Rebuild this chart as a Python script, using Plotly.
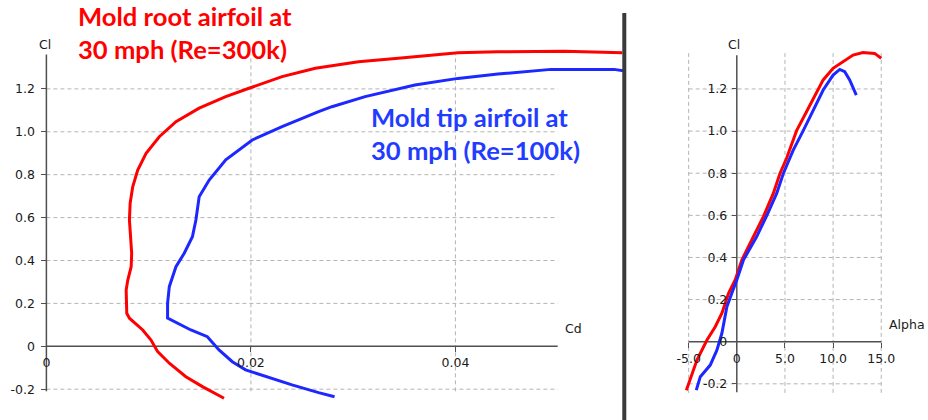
import plotly.graph_objects as go

# ---------------- data ----------------
root_polar_cd = [0.01737, 0.01526, 0.01364, 0.01202, 0.01088, 0.01023, 0.00942, 0.00812, 0.00786,
                 0.00780, 0.00796, 0.00829, 0.00834, 0.00822, 0.00812, 0.00819, 0.00844, 0.00893,
                 0.00975, 0.01104, 0.01267, 0.01494, 0.01754, 0.01981, 0.02305, 0.02630, 0.03052,
                 0.03441, 0.03765, 0.04025, 0.04415, 0.05064, 0.05632]
root_polar_cl = [-0.242, -0.188, -0.142, -0.079, -0.025, 0.029, 0.076, 0.131, 0.154,
                 0.262, 0.309, 0.371, 0.434, 0.527, 0.589, 0.667, 0.744, 0.822,
                 0.900, 0.977, 1.047, 1.110, 1.164, 1.203, 1.257, 1.296, 1.327,
                 1.343, 1.358, 1.369, 1.373, 1.376, 1.369]

tip_polar_cd = [0.02818, 0.02662, 0.02402, 0.02143, 0.01948, 0.01818, 0.01688, 0.01574, 0.01413,
                0.01185, 0.01185, 0.01202, 0.01267, 0.01348, 0.01428, 0.01462, 0.01494, 0.01592,
                0.01754, 0.02013, 0.02305, 0.02662, 0.02792, 0.03117, 0.03604, 0.04025, 0.04415,
                0.04934, 0.05551, 0.05661]
tip_polar_cl = [-0.235, -0.216, -0.180, -0.142, -0.110, -0.072, -0.017, 0.045, 0.076,
                0.131, 0.200, 0.278, 0.371, 0.434, 0.511, 0.589, 0.697, 0.775,
                0.869, 0.962, 1.024, 1.094, 1.117, 1.164, 1.218, 1.249, 1.269,
                1.291, 1.291, 1.283]

root_alpha = [-5.24, -4.14, -3.10, -2.24, -1.55, -0.86, -0.17, 0.52, 1.72, 2.76, 3.79, 4.48,
              5.17, 6.21, 7.24, 8.10, 8.97, 10.00, 11.03, 12.07, 13.10, 14.31, 15.00]
root_alpha_cl = [-0.230, -0.087, 0.008, 0.071, 0.135, 0.230, 0.293, 0.388, 0.499, 0.594, 0.704, 0.799,
                 0.871, 1.002, 1.092, 1.171, 1.243, 1.298, 1.330, 1.361, 1.373, 1.369, 1.346]

tip_alpha = [-4.21, -3.79, -2.76, -2.07, -1.55, -1.03, -0.52, 0.00, 0.69, 2.07, 3.10, 4.14, 4.83,
             5.86, 6.90, 7.93, 8.97, 10.00, 10.69, 11.21, 11.72, 12.41]
tip_alpha_cl = [-0.230, -0.166, -0.111, -0.040, 0.040, 0.166, 0.230, 0.293, 0.388, 0.499, 0.598, 0.704, 0.799,
                0.910, 1.002, 1.100, 1.195, 1.266, 1.293, 1.282, 1.243, 1.171]

cd_ticks = [0, 0.02, 0.04]
cd_tick_labels = ["0", "0.02", "0.04"]
cl_ticks = [-0.2, 0, 0.2, 0.4, 0.6, 0.8, 1.0, 1.2]
cl_tick_labels = ["-0.2", "0", "0.2", "0.4", "0.6", "0.8", "1.0", "1.2"]
alpha_ticks = [-5, 0, 5, 10, 15]
alpha_tick_labels = ["-5.0", "0", "5.0", "10.0", "15.0"]

root_label = "Mold root airfoil at<br>30 mph (Re=300k)"
tip_label = "Mold tip airfoil at<br>30 mph (Re=100k)"

# ---------------- layout geometry ----------------
W, H = 928, 420
RED = "#ff0000"
BLUE = "#1c28ff"
GRID = "#b4b4b4"
AXIS = "#505050"
TXT = "#1a1a1a"
TICKFONT = dict(family="DejaVu Sans", size=12.5, color=TXT)


def pxx(p):
    return p / W


def pxy(p):
    return 1 - p / H


# left (polar) subplot
L_CD0, L_CDS = 46.6, 10270.0
L_CL0, L_CLS = 346.3, 214.5
L_XR = [-0.002, 0.0565]
L_YR = [-0.27, 1.42]
# right (lift curve) subplot
R_A0, R_AS = 740.0, 9.67
R_CL0, R_CLS = 341.7, 210.6
R_XR = [-6.5, 16.0]
R_YR = [-0.27, 1.42]

l_xdom = [pxx(L_CD0 + L_XR[0] * L_CDS), pxx(L_CD0 + L_XR[1] * L_CDS)]
l_ydom = [pxy(L_CL0 - L_YR[0] * L_CLS), pxy(L_CL0 - L_YR[1] * L_CLS)]
r_xdom = [pxx(R_A0 + R_XR[0] * R_AS), pxx(R_A0 + R_XR[1] * R_AS)]
r_ydom = [pxy(R_CL0 - R_YR[0] * R_CLS), pxy(R_CL0 - R_YR[1] * R_CLS)]

fig = go.Figure()
fig.add_trace(go.Scatter(x=root_polar_cd, y=root_polar_cl, mode="lines",
                         line=dict(color=RED, width=3), xaxis="x", yaxis="y", showlegend=False))
fig.add_trace(go.Scatter(x=tip_polar_cd, y=tip_polar_cl, mode="lines",
                         line=dict(color=BLUE, width=3), xaxis="x", yaxis="y", showlegend=False))
fig.add_trace(go.Scatter(x=root_alpha, y=root_alpha_cl, mode="lines",
                         line=dict(color=RED, width=3), xaxis="x2", yaxis="y2", showlegend=False))
fig.add_trace(go.Scatter(x=tip_alpha, y=tip_alpha_cl, mode="lines",
                         line=dict(color=BLUE, width=3), xaxis="x2", yaxis="y2", showlegend=False))

shapes = []
DASH = "4px,3px"
# left grid
for v in cl_ticks:
    if v != 0:
        shapes.append(dict(type="line", xref="x", yref="y", x0=0, x1=0.05, y0=v, y1=v,
                           line=dict(color=GRID, width=1, dash=DASH), layer="below"))
for v in cd_ticks:
    if v != 0:
        shapes.append(dict(type="line", xref="x", yref="y", x0=v, x1=v, y0=-0.21, y1=1.36,
                           line=dict(color=GRID, width=1, dash=DASH), layer="below"))
# right grid
for v in cl_ticks:
    if v != 0:
        shapes.append(dict(type="line", xref="x2", yref="y2", x0=-5, x1=15, y0=v, y1=v,
                           line=dict(color=GRID, width=1, dash=DASH), layer="below"))
for v in alpha_ticks:
    if v != 0:
        shapes.append(dict(type="line", xref="x2", yref="y2", x0=v, x1=v, y0=-0.243, y1=1.37,
                           line=dict(color=GRID, width=1, dash=DASH), layer="below"))
# axis lines
shapes += [
    dict(type="line", xref="x", yref="y", x0=0, x1=0.05, y0=0, y1=0, line=dict(color=AXIS, width=1.5), layer="below"),
    dict(type="line", xref="x", yref="y", x0=0, x1=0, y0=-0.21, y1=1.36, line=dict(color=AXIS, width=1.5), layer="below"),
    dict(type="line", xref="x2", yref="y2", x0=-5, x1=15, y0=0, y1=0, line=dict(color=AXIS, width=1.5), layer="below"),
    dict(type="line", xref="x2", yref="y2", x0=0, x1=0, y0=-0.24, y1=1.36, line=dict(color=AXIS, width=1.5), layer="below"),
]
# divider between the two panels
shapes.append(dict(type="line", xref="paper", yref="paper", x0=pxx(627), x1=pxx(627), y0=0, y1=pxy(13),
                   line=dict(color="#3a3a3a", width=4), layer="above"))

axis_common = dict(showgrid=False, zeroline=False, showline=False, ticks="outside", ticklen=5,
                   tickcolor=AXIS, tickwidth=1, tickfont=TICKFONT, anchor="free", fixedrange=True)

annotations = [
    dict(text="Cl", x=pxx(45), y=pxy(45), xref="paper", yref="paper", showarrow=False,
         font=TICKFONT, xanchor="center", yanchor="middle"),
    dict(text="Cd", x=pxx(576), y=pxy(328), xref="paper", yref="paper", showarrow=False,
         font=TICKFONT, xanchor="center", yanchor="middle"),
    dict(text="Cl", x=pxx(737), y=pxy(45), xref="paper", yref="paper", showarrow=False,
         font=TICKFONT, xanchor="center", yanchor="middle"),
    dict(text="Alpha", x=pxx(891), y=pxy(324), xref="paper", yref="paper", showarrow=False,
         font=TICKFONT, xanchor="left", yanchor="middle"),
    dict(text=root_label, x=pxx(76), y=pxy(33), xref="paper", yref="paper", showarrow=False,
         font=dict(family="Lato", size=25.6, color=RED, weight=700), xanchor="left", yanchor="middle",
         align="left"),
    dict(text=tip_label, x=pxx(371), y=pxy(133), xref="paper", yref="paper", showarrow=False,
         font=dict(family="Lato", size=25.6, color="#1f3cff", weight=700), xanchor="left", yanchor="middle",
         align="left"),
]

fig.update_layout(
    width=W, height=H, autosize=False,
    margin=dict(l=0, r=0, t=0, b=0, pad=0),
    paper_bgcolor="white", plot_bgcolor="white",
    xaxis=dict(domain=l_xdom, range=L_XR, tickvals=cd_ticks, ticktext=cd_tick_labels,
               position=pxy(L_CL0), **axis_common),
    yaxis=dict(domain=l_ydom, range=L_YR, tickvals=cl_ticks, ticktext=cl_tick_labels,
               position=pxx(L_CD0), ticklabelstandoff=4, **axis_common),
    xaxis2=dict(domain=r_xdom, range=R_XR, tickvals=alpha_ticks, ticktext=alpha_tick_labels,
                position=pxy(R_CL0), **axis_common),
    yaxis2=dict(domain=r_ydom, range=R_YR, tickvals=cl_ticks, ticktext=cl_tick_labels,
                position=pxx(R_A0), ticklabelstandoff=2, **axis_common),
    shapes=shapes,
    annotations=annotations,
)

fig.write_html("out.html")
